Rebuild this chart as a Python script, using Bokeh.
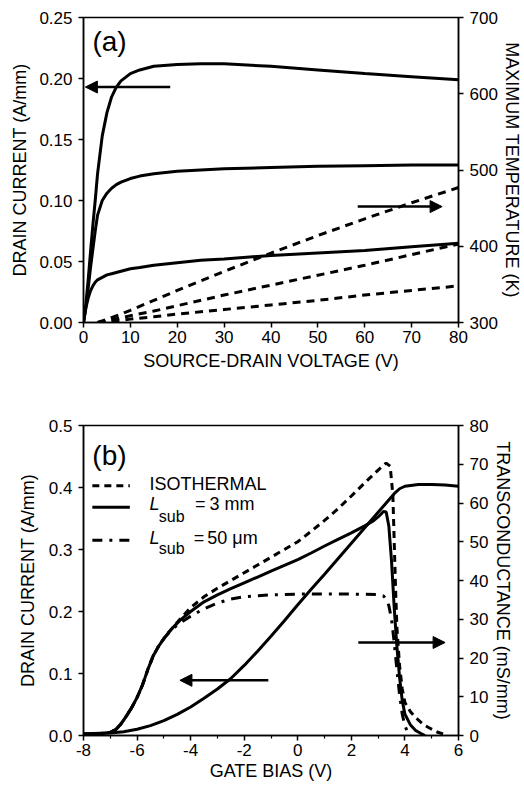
from bokeh.plotting import figure
from bokeh.models import Range1d, LinearAxis, FixedTicker, PrintfTickFormatter, Arrow, NormalHead, Label
from bokeh.layouts import column
from bokeh.embed import file_html
from bokeh.resources import INLINE

FONT = "Liberation Sans"

# ---------------- Panel (a) data ----------------
vsd = [0, 0.5, 1, 1.5, 2, 2.5, 3, 4, 5, 6, 7, 8, 10, 12, 15, 20, 25, 30, 40, 50, 60, 70, 80]
id_a1 = [0, 0.015, 0.035, 0.058, 0.08, 0.10, 0.122, 0.153, 0.172, 0.185, 0.193, 0.198, 0.204, 0.207,
         0.210, 0.2115, 0.212, 0.212, 0.210, 0.207, 0.204, 0.2015, 0.199]
id_a2 = [0, 0.012, 0.028, 0.045, 0.06, 0.075, 0.088, 0.100, 0.106, 0.110, 0.113, 0.115, 0.118, 0.120,
         0.122, 0.124, 0.125, 0.126, 0.127, 0.128, 0.1285, 0.129, 0.129]
id_a3 = [0, 0.012, 0.020, 0.026, 0.030, 0.033, 0.035, 0.037, 0.039, 0.040, 0.041, 0.042, 0.044, 0.045,
         0.047, 0.049, 0.051, 0.052, 0.055, 0.057, 0.059, 0.062, 0.065]
vsd_t = [3, 5, 8, 10, 15, 20, 30, 40, 50, 60, 70, 80]
temp_1 = [300, 304, 311, 316, 329, 342, 367, 391, 414, 436, 457, 477]
temp_2 = [300, 302, 306, 309, 315, 322, 336, 349, 362, 375, 389, 403]
temp_3 = [300, 301, 303, 304.5, 307.5, 311, 317, 323, 329, 336, 342, 348]

xticks_a = [0, 10, 20, 30, 40, 50, 60, 70, 80]
yticks_a = [0, 0.05, 0.10, 0.15, 0.20, 0.25]
tticks_a = [300, 400, 500, 600, 700]

# ---------------- Panel (b) data ----------------
vg_id = [-8, -7, -6.5, -6, -5.5, -5, -4.5, -4, -3.5, -3, -2.5, -2, -1.5, -1, -0.5, 0, 0.5, 1, 1.5, 2,
         2.5, 3, 3.3, 3.6, 3.8, 4, 4.5, 5, 5.5, 6]
id_b = [0.003, 0.004, 0.006, 0.010, 0.016, 0.024, 0.034, 0.046, 0.060, 0.075, 0.092, 0.113, 0.136,
        0.160, 0.185, 0.211, 0.236, 0.260, 0.285, 0.310, 0.335, 0.360, 0.375, 0.390, 0.398, 0.402,
        0.405, 0.405, 0.404, 0.402]

vg_iso = [-8, -7.5, -7, -6.8, -6.6, -6.4, -6.2, -6, -5.8, -5.6, -5.4, -5.2, -5, -4.8, -4.6, -4.4, -4,
          -3.5, -3, -2.5, -2, -1.5, -1, -0.5, 0, 0.5, 1, 1.5, 2, 2.5, 3, 3.3, 3.45, 3.55, 3.6, 3.65,
          3.7, 3.8, 3.9, 4.0, 4.2, 4.4, 4.7, 4.9, 5.2, 5.5]
gm_iso = [0.3, 0.4, 0.8, 1.5, 3, 5, 7.2, 9.8, 13, 17, 20.5, 23, 25, 26.8, 28.4, 30, 33, 35.8, 38, 40,
          42, 44, 46, 48, 50, 52.7, 55.5, 58.5, 61.8, 65.2, 68.5, 70.3, 69.5, 62, 50, 38, 28, 18, 12,
          8.5, 6.2, 4.6, 2.8, 2.0, 0.9, 0.2]

vg_3mm = [-8, -7.5, -7, -6.8, -6.6, -6.4, -6.2, -6, -5.8, -5.6, -5.4, -5.2, -5, -4.8, -4.6, -4.4, -4,
          -3.5, -3, -2.5, -2, -1.5, -1, -0.5, 0, 0.5, 1, 1.5, 2, 2.5, 2.8, 3, 3.2, 3.3, 3.4, 3.5, 3.6,
          3.7, 3.8, 3.9, 4.0, 4.2, 4.4, 4.6, 4.75]
gm_3mm = [0.3, 0.4, 0.8, 1.5, 3, 5, 7.2, 9.8, 13, 17, 20.5, 23, 25, 26.8, 28.3, 29.7, 32, 34.5, 36.3,
          37.9, 39.4, 40.9, 42.4, 43.9, 45.4, 47.1, 48.9, 50.6, 52.3, 54.1, 55.3, 56.4, 57.8, 57.7, 54,
          45, 33, 23, 15, 9, 5.5, 2.8, 1.3, 0.5, 0]

vg_50 = [-8, -7.5, -7, -6.8, -6.6, -6.4, -6.2, -6, -5.8, -5.6, -5.4, -5.2, -5, -4.8, -4.6, -4.4, -4,
         -3.5, -3, -2.5, -2, -1, 0, 1, 2, 3, 3.2, 3.3, 3.4, 3.5, 3.6, 3.7, 3.8, 3.9, 4.0, 4.1, 4.2]
gm_50 = [0.3, 0.4, 0.8, 1.5, 3, 5, 7.2, 9.8, 13, 17, 20.5, 23, 25, 26.6, 27.9, 29, 30.8, 32.7, 34.2,
         35.2, 35.8, 36.3, 36.5, 36.5, 36.5, 36.4, 36, 35.2, 33.5, 30, 24, 17, 10.5, 5.5, 2.5, 0.9, 0.2]

xticks_b = [-8, -6, -4, -2, 0, 2, 4, 6]
xminor_b = [-7, -5, -3, -1, 1, 3, 5]
yticks_b = [0, 0.1, 0.2, 0.3, 0.4, 0.5]
gticks_b = [0, 10, 20, 30, 40, 50, 60, 70, 80]


def style_axis(ax, ticks, fmt, label, label_size="18px", tick_std=5, label_std=5, minor=None):
    ax.ticker = FixedTicker(ticks=ticks, minor_ticks=minor or [])
    ax.formatter = PrintfTickFormatter(format=fmt)
    ax.axis_label = label
    ax.axis_label_text_font = FONT
    ax.axis_label_text_font_size = label_size
    ax.axis_label_text_font_style = "normal"
    ax.axis_label_text_color = "black"
    ax.axis_label_standoff = label_std
    ax.major_label_text_font = FONT
    ax.major_label_text_font_size = "17px"
    ax.major_label_text_color = "black"
    ax.major_label_standoff = tick_std
    ax.axis_line_width = 1.5
    ax.axis_line_color = "black"
    ax.major_tick_line_color = "black"
    ax.major_tick_line_width = 1.5
    ax.major_tick_in = 0
    ax.major_tick_out = 5
    if minor:
        ax.minor_tick_line_color = "black"
        ax.minor_tick_line_width = 1.2
        ax.minor_tick_in = 0
        ax.minor_tick_out = 3
    else:
        ax.minor_tick_line_color = None


def base_fig(width, height, xr, yr, ml, mr, mt, mb):
    p = figure(width=width, height=height, x_range=xr, y_range=yr, output_backend="svg",
               toolbar_location=None, min_border_left=ml, min_border_right=mr,
               min_border_top=mt, min_border_bottom=mb)
    p.grid.visible = False
    p.outline_line_color = "black"
    p.outline_line_width = 1.5
    p.background_fill_color = "white"
    p.border_fill_color = "white"
    return p


# ---------------- Figure (a) ----------------
pa = base_fig(524, 390, Range1d(0, 80), Range1d(0, 0.25), 83, 65, 17, 68)
pa.extra_y_ranges = {"temp": Range1d(300, 700)}
ra = LinearAxis(y_range_name="temp")
pa.add_layout(ra, "right")
style_axis(pa.xaxis[0], xticks_a, "%d", "SOURCE-DRAIN VOLTAGE (V)", "18px", tick_std=3, label_std=5)
style_axis(pa.yaxis[0], yticks_a, "%.2f", "DRAIN CURRENT (A/mm)", "18px", tick_std=6, label_std=6)
style_axis(ra, tticks_a, "%d", "MAXIMUM TEMPERATURE (K)", "18px", tick_std=6, label_std=1)

for ys in (id_a1, id_a2, id_a3):
    pa.line(vsd, ys, line_color="black", line_width=3)
for ts in (temp_1, temp_2, temp_3):
    pa.line(vsd_t, ts, line_color="black", line_width=3, line_dash="8 6", y_range_name="temp")

pa.add_layout(Arrow(end=NormalHead(size=12, fill_color="black", line_color="black"),
                    x_start=18.5, y_start=0.193, x_end=0.4, y_end=0.193,
                    line_color="black", line_width=2.5))
pa.add_layout(Arrow(end=NormalHead(size=12, fill_color="black", line_color="black"),
                    x_start=58.5, y_start=452, x_end=76.5, y_end=452,
                    line_color="black", line_width=2.5, y_range_name="temp"))
pa.add_layout(Label(x=1.9, y=0.230, text="(a)", text_font=FONT, text_font_size="28px",
                    text_baseline="middle", text_align="left", text_color="black"))

# ---------------- Figure (b) ----------------
pb = base_fig(524, 397, Range1d(-8, 6), Range1d(0, 0.5), 81, 62, 35, 52)
pb.extra_y_ranges = {"gm": Range1d(0, 80)}
rb = LinearAxis(y_range_name="gm")
pb.add_layout(rb, "right")
style_axis(pb.xaxis[0], xticks_b, "%d", "GATE BIAS (V)", "18px", tick_std=3, label_std=2, minor=xminor_b)
style_axis(pb.yaxis[0], yticks_b, "%.1f", "DRAIN CURRENT (A/mm)", "18px", tick_std=6, label_std=8)
style_axis(rb, gticks_b, "%d", "TRANSCONDUCTANCE (mS/mm)", "18px", tick_std=6, label_std=2)

pb.line(vg_id, id_b, line_color="black", line_width=3)
pb.line(vg_iso, gm_iso, line_color="black", line_width=3, line_dash="7 5", y_range_name="gm")
pb.line(vg_3mm, gm_3mm, line_color="black", line_width=3, y_range_name="gm")
pb.line(vg_50, gm_50, line_color="black", line_width=3, line_dash="10 7 3 7", y_range_name="gm")

pb.add_layout(Arrow(end=NormalHead(size=12, fill_color="black", line_color="black"),
                    x_start=-1.1, y_start=0.089, x_end=-4.4, y_end=0.089,
                    line_color="black", line_width=2.5))
pb.add_layout(Arrow(end=NormalHead(size=12, fill_color="black", line_color="black"),
                    x_start=2.26, y_start=24, x_end=5.5, y_end=24,
                    line_color="black", line_width=2.5, y_range_name="gm"))
pb.add_layout(Label(x=-7.67, y=0.452, text="(b)", text_font=FONT, text_font_size="28px",
                    text_baseline="middle", text_align="left", text_color="black"))

# legend samples
for ly, dash in ((0.403, "7 5"), (0.368, "solid"), (0.315, "10 7 3 7")):
    pb.add_layout(Arrow(end=None, start=None, x_start=-7.67, y_start=ly, x_end=-6.27, y_end=ly,
                        line_color="black", line_width=3, line_dash=dash))


def lab(x, y, t, size="18px", style="normal"):
    pb.add_layout(Label(x=x, y=y, text=t, text_font=FONT, text_font_size=size, text_font_style=style,
                        text_baseline="middle", text_align="left", text_color="black"))


lab(-5.54, 0.405, "ISOTHERMAL")
lab(-5.54, 0.374, "L", style="italic")
lab(-5.19, 0.353, "sub", size="16px")
lab(-3.84, 0.374, "=")
lab(-3.30, 0.374, "3 mm")
lab(-5.54, 0.3185, "L", style="italic")
lab(-5.19, 0.301, "sub", size="16px")
lab(-3.88, 0.3185, "=")
lab(-3.38, 0.3185, "50 μm")

layout = column(pa, pb)
open("out.html", "w").write(file_html(layout, INLINE))
